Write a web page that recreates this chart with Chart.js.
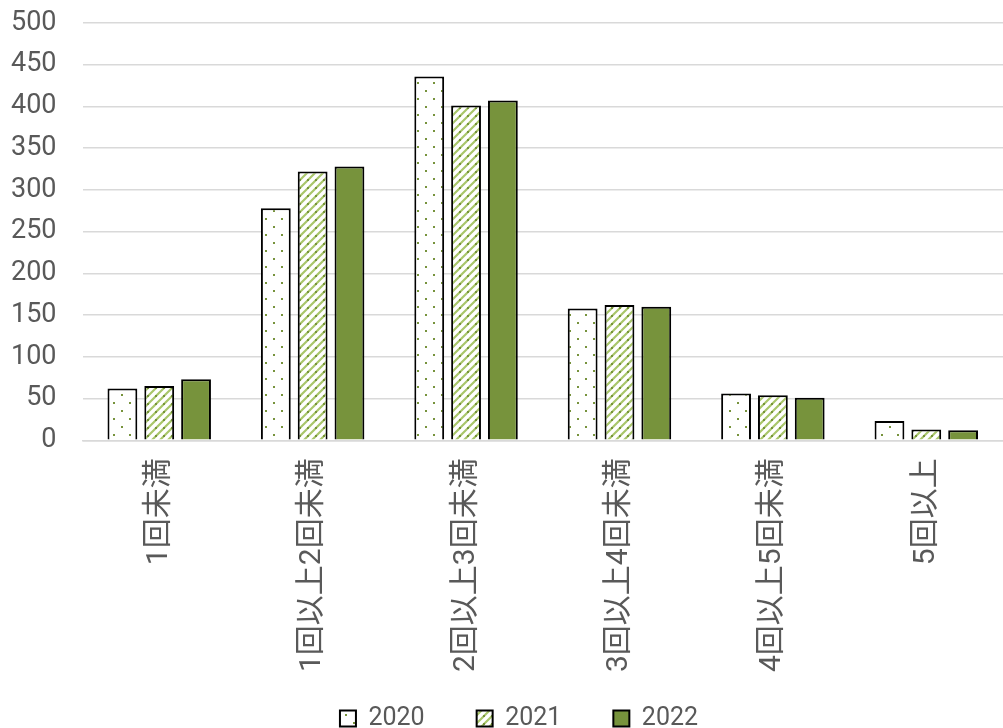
<!DOCTYPE html>
<html>
<head>
<meta charset="utf-8">
<script src="https://cdn.jsdelivr.net/npm/chart.js@4"></script>
<style>
    html, body { margin: 0; padding: 0; background: #fff; overflow: hidden; }
    #wrap { width: 1003px; height: 728px; }
</style>
</head>
<body>
<div id="wrap"><canvas id="grafico"></canvas></div>
<script>
// Categorias
const categorias = ['1回未満', '1回以上2回未満', '2回以上3回未満', '3回以上4回未満', '4回以上5回未満', '5回以上'];
const anios = ['2020', '2021', '2022'];
// Valores por año
const valores2020 = [62, 278, 436, 158, 56, 23];
const valores2021 = [65, 322, 401, 162, 54, 13];
const valores2022 = [73, 328, 407, 160, 51, 12];
const ticksY = [0, 50, 100, 150, 200, 250, 300, 350, 400, 450, 500];

const verde = '#77933C';
const fuente = "Roboto, 'Noto Sans CJK JP', sans-serif";

// Patron de puntos (2020)
function patronPuntos() {
    var c = document.createElement('canvas');
    c.width = 16; c.height = 16;
    var g = c.getContext('2d');
    g.fillStyle = '#ffffff';
    g.fillRect(0, 0, 16, 16);
    g.fillStyle = verde;
    g.fillRect(1, 2, 2, 2);
    g.fillRect(9, 10, 2, 2);
    return g.createPattern(c, 'repeat');
}

// Patron de diagonales (2021)
function patronDiagonal() {
    var c = document.createElement('canvas');
    c.width = 8; c.height = 8;
    var g = c.getContext('2d');
    g.fillStyle = '#ffffff';
    g.fillRect(0, 0, 8, 8);
    g.strokeStyle = '#a9c66a';
    g.lineWidth = 2.2;
    g.beginPath();
    g.moveTo(-2, 10); g.lineTo(10, -2);
    g.moveTo(-6, 6); g.lineTo(6, -6);
    g.moveTo(2, 14); g.lineTo(14, 2);
    g.stroke();
    g.fillStyle = verde;
    g.fillRect(3, 3, 2, 2);
    return g.createPattern(c, 'repeat');
}

// La leyenda usa mucho padding horizontal; recorto el alto que sobra arriba
// y la corro a la derecha (el padding final descentra los items)
const recorteLeyenda = 36;
const corrimientoLeyenda = 23;
const ajusteLeyenda = {
    id: 'ajusteLeyenda',
    afterInit: function(chart) {
        var leyenda = chart.legend;
        if (!leyenda) return;
        var fitOrig = leyenda.fit;
        var drawOrig = leyenda._draw;
        leyenda.fit = function() {
            fitOrig.call(this);
            this.height -= recorteLeyenda;
        };
        leyenda._draw = function() {
            this.top -= recorteLeyenda;
            this.left += corrimientoLeyenda;
            this.right += corrimientoLeyenda;
            drawOrig.call(this);
            this.top += recorteLeyenda;
            this.left -= corrimientoLeyenda;
            this.right -= corrimientoLeyenda;
        };
    }
};

const ctx = document.getElementById('grafico');

const data = {
    labels: categorias,
    datasets: [{
        label: anios[0],
        data: valores2020,
        backgroundColor: patronPuntos(),
        borderColor: '#000000',
        borderWidth: 2
    }, {
        label: anios[1],
        data: valores2021,
        backgroundColor: patronDiagonal(),
        borderColor: '#000000',
        borderWidth: 2
    }, {
        label: anios[2],
        data: valores2022,
        backgroundColor: verde,
        borderColor: '#000000',
        borderWidth: 2
    }]
};

const config = {
    type: 'bar',
    data: data,
    plugins: [ajusteLeyenda],
    options: {
        responsive: true,
        maintainAspectRatio: false,
        animation: false,
        categoryPercentage: 0.72,
        barPercentage: 0.81,
        layout: { padding: { top: 23, right: -4, left: -15, bottom: -13 } },
        plugins: {
            title: { display: false },
            tooltip: { enabled: false },
            legend: {
                position: 'bottom',
                labels: {
                    boxWidth: 16,
                    boxHeight: 16,
                    padding: 52,
                    color: '#595959',
                    font: { family: fuente, size: 25 }
                }
            }
        },
        scales: {
            x: {
                grid: { display: false, drawTicks: false },
                border: { color: '#d9d9d9', width: 1.5 },
                ticks: {
                    minRotation: 90,
                    maxRotation: 90,
                    color: '#595959',
                    padding: 18,
                    font: { family: fuente, size: 30 }
                }
            },
            y: {
                min: 0,
                max: 500,
                afterBuildTicks: function(axis) {
                    axis.ticks = ticksY.map(v => ({ value: v }));
                },
                afterFit: function(axis) {
                    // que el padding de las etiquetas no empuje el area hacia abajo
                    axis.paddingTop = 0;
                    axis.paddingBottom = 0;
                },
                border: { display: false },
                grid: { color: '#d9d9d9', lineWidth: 1.5, drawTicks: false },
                ticks: {
                    color: '#595959',
                    padding: 26,
                    font: { family: fuente, size: 27 }
                }
            }
        }
    }
};

var myChart = new Chart(ctx, config);
</script>
</body>
</html>
